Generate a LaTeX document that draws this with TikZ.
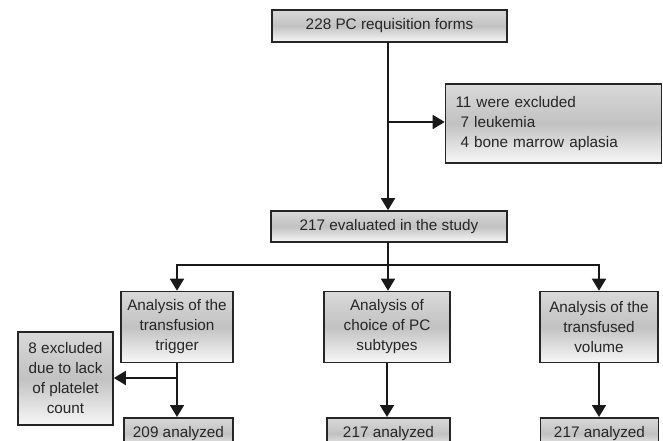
\documentclass[tikz,border=0pt]{standalone}
\usepackage{fontspec}
\setmainfont{Liberation Sans}
\usetikzlibrary{arrows.meta}
\begin{document}
\begin{tikzpicture}[x=1pt,y=-1pt,
  box/.style={draw=black!85, line width=1.6pt, top color=black!15, bottom color=black!3, middle color=black!24,
    inner sep=1pt, font=\fontsize{15.3}{20}\selectfont, align=center, text=black!85},
  conn/.style={line width=1.8pt, draw=black!90},
  arr/.style={conn, -{Triangle[width=14pt,length=12pt]}}]
\useasboundingbox (0,0) rectangle (663,441);
\clip (0,0) rectangle (663,441);
\node[box, minimum width=235pt, minimum height=32pt] (top) at (389.5,26) {228 PC requisition forms};
\node[box, minimum width=216pt, minimum height=79pt, align=left, text width=196pt] (exc) at (553.5,123.5)
  {11 were excluded\\\hspace*{5pt}7 leukemia\\\hspace*{5pt}4 bone marrow aplasia};
\node[box, minimum width=236pt, minimum height=31pt] (eval) at (389,226.5) {217 evaluated in the study};
\node[box, minimum width=112pt, minimum height=71pt] (a1) at (177,327) {Analysis of the\\transfusion\\trigger};
\node[box, minimum width=126pt, minimum height=71pt] (a2) at (387,327) {Analysis of\\choice of PC\\subtypes};
\node[box, minimum width=118pt, minimum height=71pt] (a3) at (599,327) {Analysis of the\\transfused\\volume};
\node[box, minimum width=95pt, minimum height=93pt] (x8) at (65.5,378.5) {8 excluded\\due to lack\\of platelet\\count};
\node[box, minimum width=109pt, minimum height=32pt, anchor=north] (b1) at (178.5,417) {209 analyzed};
\node[box, minimum width=123pt, minimum height=32pt, anchor=north] (b2) at (388.5,417) {217 analyzed};
\node[box, minimum width=118pt, minimum height=32pt, anchor=north] (b3) at (599.5,417) {217 analyzed};
\coordinate (j1) at (388,122);
\coordinate (h) at (388,265);
\coordinate (j2) at (177,378);
\draw[conn] (top.south -| j1) -- (j1);
\draw[arr] (j1) -- (exc.west |- j1);
\draw[arr] (j1) -- (eval.north -| j1);
\draw[conn] (eval.south -| h) -- (h);
\draw[arr] (h) -| (a1.north);
\draw[arr] (h) -| (a3.north);
\draw[arr] (h) -- (a2.north -| h);
\draw[conn] (a1.south -| j2) -- (j2);
\draw[arr] (j2) -- (x8.east |- j2);
\draw[arr] (j2) -- (b1.north -| j2);
\draw[arr] (a2.south) -- (b2.north -| a2.south);
\draw[arr] (a3.south) -- (b3.north -| a3.south);
\end{tikzpicture}
\end{document}
